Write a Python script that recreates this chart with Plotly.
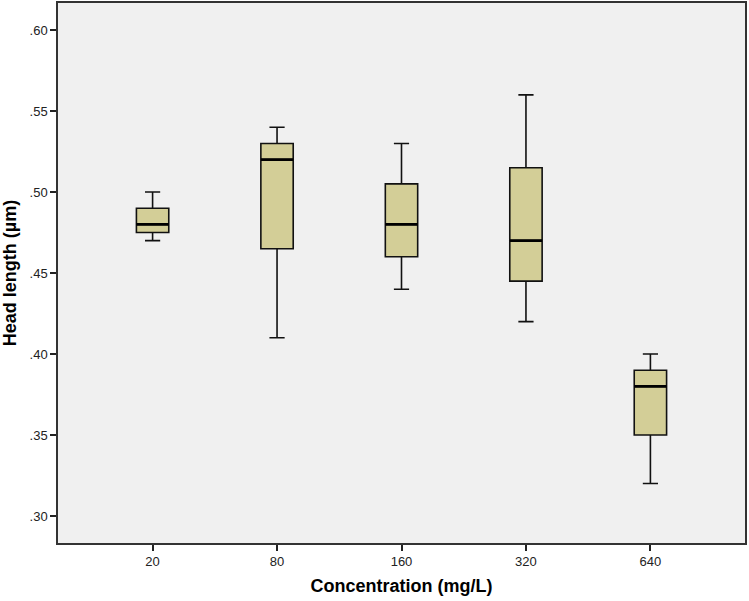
import plotly.graph_objects as go

# Concentration groups and box statistics (head length, µm)
concentrations = ["20", "80", "160", "320", "640"]
lower_whisker = [0.470, 0.410, 0.440, 0.420, 0.320]
q1_vals = [0.475, 0.465, 0.460, 0.445, 0.350]
median_vals = [0.480, 0.520, 0.480, 0.470, 0.380]
q3_vals = [0.490, 0.530, 0.505, 0.515, 0.390]
upper_whisker = [0.500, 0.540, 0.530, 0.560, 0.400]

y_tick_vals = [0.30, 0.35, 0.40, 0.45, 0.50, 0.55, 0.60]
y_tick_text = [".30", ".35", ".40", ".45", ".50", ".55", ".60"]

BOX_W = 0.26
FILL = "#D3CE97"
BG = "#F0F0F0"
FONT = "Liberation Sans, Arial, sans-serif"

fig = go.Figure()

fig.add_trace(go.Box(
    x=concentrations,
    q1=q1_vals,
    median=median_vals,
    q3=q3_vals,
    lowerfence=lower_whisker,
    upperfence=upper_whisker,
    width=BOX_W,
    whiskerwidth=0.47,
    fillcolor=FILL,
    line=dict(color="#111", width=1.6),
    boxpoints=False,
    hoverinfo="skip",
    showlegend=False,
))

# thicker median bars, like SPSS
for i, m in enumerate(median_vals):
    fig.add_shape(
        type="line", xref="x", yref="y",
        x0=i - BOX_W / 2, x1=i + BOX_W / 2, y0=m, y1=m,
        line=dict(color="black", width=2.8),
    )

fig.update_layout(
    width=749,
    height=601,
    margin=dict(l=58, r=4, t=3, b=58, autoexpand=False),
    plot_bgcolor=BG,
    paper_bgcolor="white",
    font=dict(family=FONT, size=13, color="#222"),
    xaxis=dict(
        type="category",
        range=[-0.76, 4.76],
        automargin=False,
        showgrid=False,
        zeroline=False,
        showline=True,
        linecolor="#333",
        linewidth=1.5,
        mirror=True,
        ticks="outside",
        ticklen=6,
        tickwidth=1.5,
        tickcolor="#222",
        tickfont=dict(size=13, color="#222"),
        title=dict(text="<b>Concentration (mg/L)</b>",
                   font=dict(size=18, color="black"), standoff=11),
    ),
    yaxis=dict(
        range=[0.2833, 0.6167],
        automargin=False,
        tickvals=y_tick_vals,
        ticktext=y_tick_text,
        showgrid=False,
        zeroline=False,
        showline=True,
        linecolor="#333",
        linewidth=1.5,
        mirror=True,
        ticks="outside",
        ticklen=6,
        tickwidth=1.5,
        tickcolor="#222",
        tickfont=dict(size=13, color="#222"),
        title=dict(text="<b>Head length (µm)</b>",
                   font=dict(size=18, color="black"), standoff=8),
    ),
)

# page body has a default 8px margin; drop it so the figure fills the window
fig.write_html(
    "out.html",
    config={"displayModeBar": False},
    post_script="document.body.style.margin = '0';",
)
